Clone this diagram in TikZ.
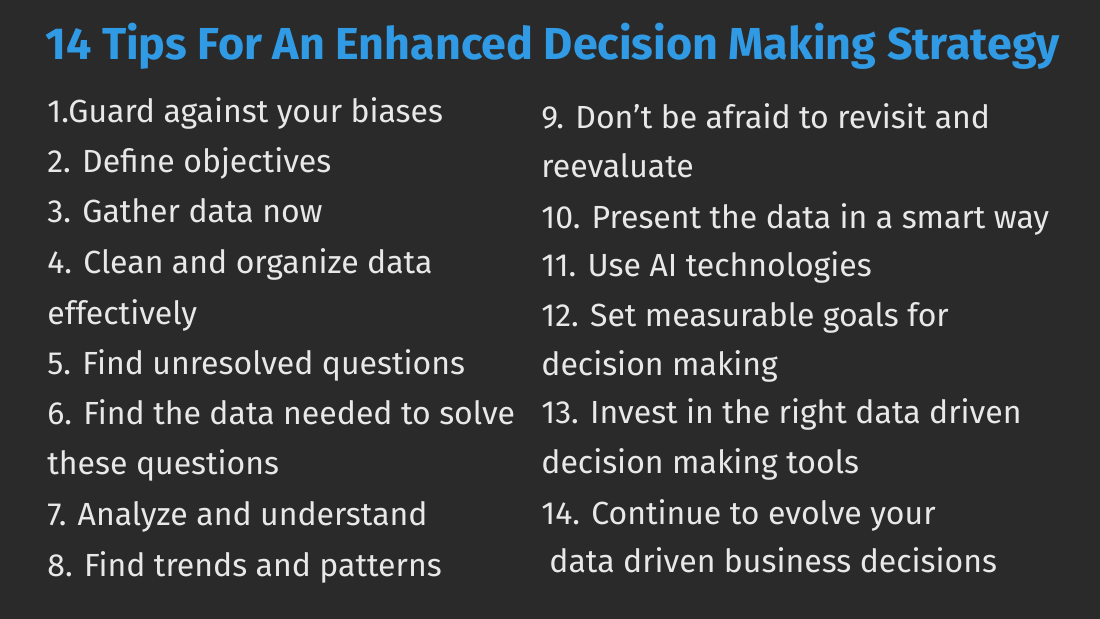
\documentclass[tikz,border=0pt]{standalone}
\usepackage{fontspec}
\setmainfont{Fira Sans}
\usetikzlibrary{positioning}
\definecolor{board}{RGB}{42,42,42}
\definecolor{chalk}{RGB}{232,232,232}
\definecolor{chalkblue}{RGB}{48,155,228}

\begin{document}
\begin{tikzpicture}[x=0.5pt,y=-0.5pt]
  \tikzstyle{tip}=[anchor=base west,inner sep=0pt,text=chalk,font=\fontsize{16}{19}\selectfont\mdseries]
  \tikzstyle{heading}=[anchor=base west,inner sep=0pt,text=chalkblue,font=\fontsize{22.4}{26}\selectfont\bfseries]

  \fill[board] (0,0) rectangle (1100,619);
  \useasboundingbox (0,0) rectangle (1100,619);

  \node[heading] (title) at (45,60) {14 Tips For An Enhanced Decision Making Strategy};

  % left column
  \node[tip] (t1)  at (47,123) {1.Guard against your biases};
  \node[tip] (t2)  at (47,173) {2. Define objectives};
  \node[tip] (t3)  at (47,223) {3. Gather data now};
  \node[tip] (t4)  at (47,274) {4. Clean and organize data};
  \node[tip] (t4b) at (47,325) {effectively};
  \node[tip] (t5)  at (47,375) {5. Find unresolved questions};
  \node[tip] (t6)  at (47,425) {6. Find the data needed to solve};
  \node[tip] (t6b) at (47,475) {these questions};
  \node[tip] (t7)  at (47,526) {7. Analyze and understand};
  \node[tip] (t8)  at (47,577) {8. Find trends and patterns};

  % right column
  \node[tip] (t9)   at (541,129) {9. Don’t be afraid to revisit and};
  \node[tip] (t9b)  at (541,178) {reevaluate};
  \node[tip] (t10)  at (541,229) {10. Present the data in a smart way};
  \node[tip] (t11)  at (541,277) {11. Use AI technologies};
  \node[tip] (t12)  at (541,327) {12. Set measurable goals for};
  \node[tip] (t12b) at (541,376) {decision making};
  \node[tip] (t13)  at (541,424) {13. Invest in the right data driven};
  \node[tip] (t13b) at (541,474) {decision making tools};
  \node[tip] (t14)  at (541,525) {14. Continue to evolve your};
  \node[tip] (t14b) at (549,573) {data driven business decisions};
\end{tikzpicture}
\end{document}
